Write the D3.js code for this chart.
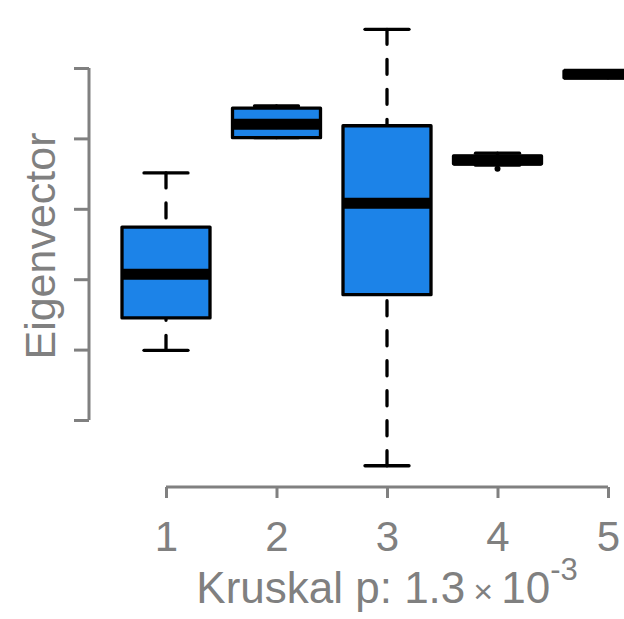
<!DOCTYPE html>
<html>
<head>
<meta charset="utf-8">
<script src="https://cdn.jsdelivr.net/npm/d3@7"></script>
<style>
  body { margin: 0; background: #fff; }
  svg { display: block; font-family: "Liberation Sans", Arial, sans-serif; }
</style>
</head>
<body>
<div id="grafico"></div>
<script>
// grupos e estatísticas do boxplot (lo, q1, mediana, q3, hi)
var groups   = [1, 2, 3, 4, 5];
var whiskLo  = [0.199, 0.501, 0.035, 0.462, 0.591];
var q1       = [0.245, 0.501, 0.278, 0.464, 0.586];
var medians  = [0.307, 0.520, 0.408, 0.469, 0.591];
var q3       = [0.374, 0.543, 0.518, 0.475, 0.596];
var whiskHi  = [0.451, 0.546, 0.655, 0.479, 0.591];
var outliers = [{g: 4, v: 0.457}];
var yTicks   = [0.1, 0.2, 0.3, 0.4, 0.5, 0.6];
var xLabelMain = "Kruskal p: 1.3";
var yLabel = "Eigenvector";

var width = 624, height = 619;
var gray = "#808080";
var blue = "#1c83e8";
var lw = 3.3;

var svg = d3.select("#grafico").append("svg")
    .attr("width", width).attr("height", height);

var x = d3.scaleLinear().domain([1, 5]).range([166, 608]);
var y = d3.scaleLinear().domain([0.1, 0.6]).range([420, 68]);
var boxHalf = 44, capHalf = 22;

var data = groups.map(function(g, i){
    return {g: g, lo: whiskLo[i], q1: q1[i], med: medians[i], q3: q3[i], hi: whiskHi[i]};
});

// eixo y (sem rótulos)
var yAxis = svg.append("g")
    .attr("transform", "translate(89,0)")
    .call(d3.axisLeft(y).tickValues(yTicks).tickSize(15).tickFormat("").tickSizeOuter(0));
yAxis.select(".domain").attr("stroke", gray).attr("stroke-width", 3)
    .attr("d", "M0," + y(0.1) + "V" + y(0.6));
yAxis.selectAll(".tick line").attr("stroke", gray).attr("stroke-width", 3);

// eixo x
var xAxis = svg.append("g")
    .attr("transform", "translate(0,487)")
    .call(d3.axisBottom(x).tickValues(groups).tickSize(11).tickSizeOuter(0).tickFormat(d3.format("d")));
xAxis.select(".domain").attr("stroke", gray).attr("stroke-width", 3)
    .attr("d", "M" + x(1) + ",0H" + x(5));
xAxis.selectAll(".tick line").attr("stroke", gray).attr("stroke-width", 3);
xAxis.selectAll(".tick text").attr("fill", gray).attr("font-size", 42)
    .attr("font-family", "Liberation Sans, Arial, sans-serif")
    .attr("dy", 0).attr("y", 64);

var plot = svg.append("g");
var b = plot.selectAll("g.box").data(data).enter().append("g").attr("class", "box");

// bigodes tracejados: do extremo até a caixa
b.append("line")
    .attr("x1", function(d){ return x(d.g); }).attr("x2", function(d){ return x(d.g); })
    .attr("y1", function(d){ return y(d.lo); }).attr("y2", function(d){ return y(d.q1); })
    .attr("stroke", "#000").attr("stroke-width", lw).attr("stroke-dasharray", "15,15")
    .attr("stroke-linecap", "round");
b.append("line")
    .attr("x1", function(d){ return x(d.g); }).attr("x2", function(d){ return x(d.g); })
    .attr("y1", function(d){ return y(d.hi); }).attr("y2", function(d){ return y(d.q3); })
    .attr("stroke", "#000").attr("stroke-width", lw).attr("stroke-dasharray", "15,15")
    .attr("stroke-linecap", "round");
// staples
["lo", "hi"].forEach(function(k){
    b.append("line")
        .attr("x1", function(d){ return x(d.g) - capHalf; })
        .attr("x2", function(d){ return x(d.g) + capHalf; })
        .attr("y1", function(d){ return y(d[k]); }).attr("y2", function(d){ return y(d[k]); })
        .attr("stroke", "#000").attr("stroke-width", lw).attr("stroke-linecap", "round");
});
// caixas
b.append("rect")
    .attr("x", function(d){ return x(d.g) - boxHalf; })
    .attr("width", boxHalf * 2)
    .attr("y", function(d){ return y(d.q3); })
    .attr("height", function(d){ return y(d.q1) - y(d.q3); })
    .attr("fill", blue).attr("stroke", "#000").attr("stroke-width", lw)
    .attr("stroke-linejoin", "round");
// medianas
b.append("line")
    .attr("x1", function(d){ return x(d.g) - boxHalf; })
    .attr("x2", function(d){ return x(d.g) + boxHalf; })
    .attr("y1", function(d){ return y(d.med); }).attr("y2", function(d){ return y(d.med); })
    .attr("stroke", "#000").attr("stroke-width", 11);

// outliers
plot.selectAll("circle.out").data(outliers).enter().append("circle")
    .attr("class", "out")
    .attr("cx", function(d){ return x(d.g); })
    .attr("cy", function(d){ return y(d.v); })
    .attr("r", 3).attr("fill", "#000");

// rótulo eixo y
svg.append("text")
    .attr("transform", "translate(55," + ((y(0.1) + y(0.6)) / 2 + 2) + ") rotate(-90)")
    .attr("text-anchor", "middle").attr("fill", gray).attr("font-size", 43)
    .text(yLabel);

// rótulo eixo x com notação científica
var xl = svg.append("text")
    .attr("x", 387).attr("y", 603)
    .attr("text-anchor", "middle").attr("fill", gray).attr("font-size", 44);
xl.append("tspan").text(xLabelMain);
xl.append("tspan").attr("font-size", 34).attr("dx", 8).text("\u00d7");
xl.append("tspan").attr("dx", 8).text("10");
xl.append("tspan").attr("font-size", 31).attr("dy", -23).text("-3");
</script>
</body>
</html>
